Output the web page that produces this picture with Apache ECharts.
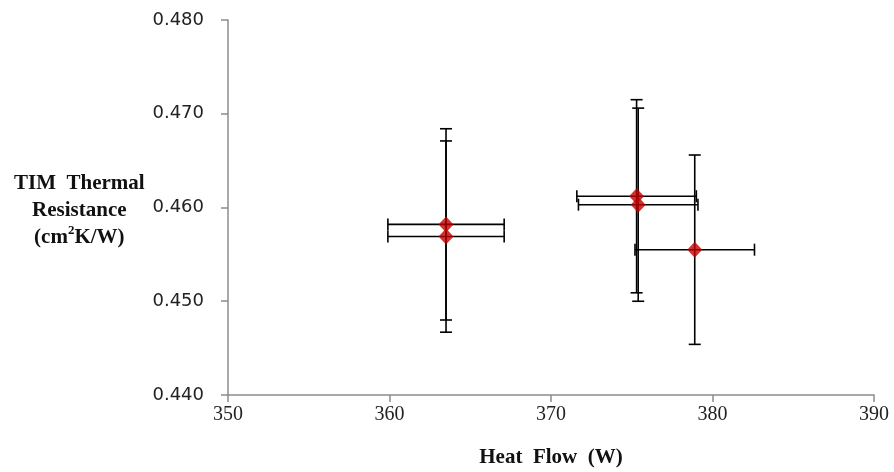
<!DOCTYPE html>
<html>
<head>
<meta charset="utf-8">
<script src="https://cdn.jsdelivr.net/npm/echarts@6/dist/echarts.min.js"></script>
<style>
html,body{margin:0;padding:0;background:#fff;}
#c{width:894px;height:472px;}
</style>
</head>
<body>
<div id="c"></div>
<script>
// Data
var heatFlow   = [363.5, 363.5, 375.3, 375.4, 378.9];
var resistance = [0.4582, 0.4569, 0.4612, 0.4603, 0.4555];
var heatErr    = [3.6, 3.6, 3.7, 3.7, 3.7];
var resErr     = [0.0102, 0.0102, 0.0103, 0.0103, 0.0101];
var xTicks = [350, 360, 370, 380, 390];
var yTicks = [0.440, 0.450, 0.460, 0.470, 0.480];

var points = heatFlow.map(function (x, i) { return [x, resistance[i]]; });
var errData = heatFlow.map(function (x, i) { return [x, resistance[i], heatErr[i], resErr[i]]; });

var chart = echarts.init(document.getElementById('c'));
var axisColor = '#8c8c8c';
chart.setOption({
  animation: false,
  backgroundColor: '#ffffff',
  grid: { left: 228, right: 20, top: 20, bottom: 77, containLabel: false, outerBoundsMode: 'none' },
  xAxis: {
    type: 'value',
    min: xTicks[0], max: xTicks[xTicks.length - 1], interval: 10,
    splitLine: { show: false },
    axisLine: { show: true, lineStyle: { color: axisColor, width: 1.5 } },
    axisTick: { show: true, length: 7, lineStyle: { color: axisColor, width: 1.5 } },
    axisLabel: { color: '#222', fontFamily: 'Liberation Serif', fontSize: 20, margin: 10 },
    name: 'Heat  Flow  (W)',
    nameLocation: 'middle',
    nameGap: 52,
    nameTextStyle: { color: '#111', fontFamily: 'Liberation Serif', fontWeight: 'bold', fontSize: 21 }
  },
  yAxis: {
    type: 'value',
    min: yTicks[0], max: yTicks[yTicks.length - 1], interval: 0.01,
    splitLine: { show: false },
    axisLine: { show: true, lineStyle: { color: axisColor, width: 1.5 } },
    axisTick: { show: true, length: 7, lineStyle: { color: axisColor, width: 1.5 } },
    axisLabel: {
      color: '#222', fontFamily: 'DejaVu Sans', fontSize: 18, margin: 24,
      formatter: function (v) { return v.toFixed(3); }
    }
  },
  graphic: [{
    type: 'text',
    left: 14, top: 170,
    style: {
      text: 'TIM  Thermal\n{r|Resistance}\n{r|(cm}{s|2}{r|K/W)}',
      x: 0, y: 0,
      textAlign: 'center',
      fill: '#111',
      font: 'bold 21px "Liberation Serif"',
      lineHeight: 27,
      rich: {
        r: { fontFamily: 'Liberation Serif', fontWeight: 'bold', fontSize: 21, fill: '#111', lineHeight: 27 },
        s: { fontFamily: 'Liberation Serif', fontWeight: 'bold', fontSize: 13, fill: '#111', verticalAlign: 'top', padding: [0, 0, 8, 0], lineHeight: 27 }
      }
    }
  }],
  series: [
    {
      type: 'custom',
      z: 2,
      data: errData,
      renderItem: function (params, api) {
        var x = api.value(0), y = api.value(1), xe = api.value(2), ye = api.value(3);
        var l = api.coord([x - xe, y]), r = api.coord([x + xe, y]);
        var t = api.coord([x, y + ye]), b = api.coord([x, y - ye]);
        var cap = 6;
        var st = { stroke: '#000', lineWidth: 1.6 };
        function ln(x1, y1, x2, y2) {
          return { type: 'line', shape: { x1: x1, y1: y1, x2: x2, y2: y2 }, style: st };
        }
        return {
          type: 'group',
          children: [
            ln(l[0], l[1], r[0], r[1]),
            ln(l[0], l[1] - cap, l[0], l[1] + cap),
            ln(r[0], r[1] - cap, r[0], r[1] + cap),
            ln(t[0], t[1], b[0], b[1]),
            ln(t[0] - cap, t[1], t[0] + cap, t[1]),
            ln(b[0] - cap, b[1], b[0] + cap, b[1])
          ]
        };
      }
    },
    {
      type: 'scatter',
      z: 3,
      data: points,
      symbol: 'diamond',
      symbolSize: [15, 16],
      itemStyle: { color: '#c00000' }
    }
  ]
});
</script>
</body>
</html>
